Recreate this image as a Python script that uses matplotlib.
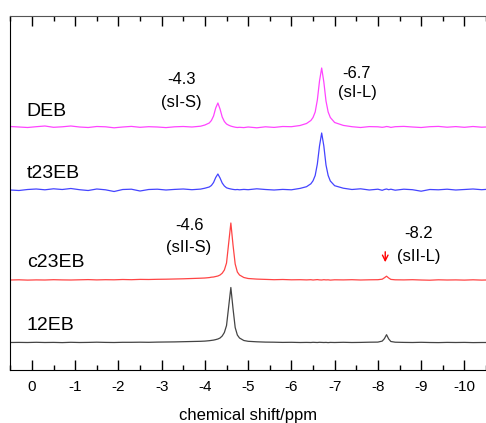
import matplotlib
matplotlib.use("Agg")
import matplotlib.pyplot as plt

plt.rcParams['font.family'] = ['Liberation Sans', 'DejaVu Sans']

# chemical shift grid (ppm), shared by all traces
ppm = [0.5, 0.3, 0.1, -0.1, -0.3, -0.5, -0.7, -0.9, -1.1, -1.3, -1.5, -1.7,
       -1.9, -2.1, -2.3, -2.5, -2.7, -2.9, -3.1, -3.3, -3.5, -3.7, -3.9,
       -4.0, -4.1, -4.15, -4.2, -4.25, -4.3, -4.35, -4.4, -4.45, -4.5, -4.55,
       -4.6, -4.65, -4.7, -4.75, -4.8, -4.9,
       -5.0, -5.2, -5.4, -5.6, -5.8, -6.0, -6.2,
       -6.35, -6.45, -6.5, -6.55, -6.6, -6.65, -6.7, -6.75, -6.8, -6.85, -6.9, -7.0,
       -7.2, -7.4, -7.6, -7.8,
       -8.0, -8.1, -8.15, -8.2, -8.25, -8.3, -8.4,
       -8.6, -8.8, -9.0, -9.2, -9.4, -9.6, -9.8, -10.0, -10.2, -10.4, -10.5]

deb = [0.5, 0, -0.5, 0.3, 1.0, -0.3, 0.2, 1.0, 0, -0.5, 0.5, 0.2,
       -0.8, 0, 0.6, -0.3, 0.3, 0, -0.6, 0.2, 0.5, 0, 0.8,
       2.0, 4.0, 6.5, 11, 19, 24, 18, 10, 5.5, 3.0, 1.8,
       0.9, 0.3, -0.2, -0.5, -0.3, -0.6,
       0, -0.8, 0.2, -0.4, 0.5, 0.3, 1.5,
       3.5, 6.5, 9.5, 15, 27, 46, 59, 45, 26, 15, 9.5, 4.5,
       1.6, 0.3, -0.5, 0.4,
       0.2, -0.3, 0, 0.5, 0.2, -0.4, 0.3,
       0.6, 0, -0.5, 0.3, 0.6, -0.2, 0.4, -0.3, 0.5, -0.2, 0]

t23eb = [0, -0.5, 0.5, 1.0, 0.2, 1.2, 0.5, 1.5, 0.3, -0.5, 1.0, 0.2,
         -1.5, 0.5, 0.8, -1.0, 0.5, 0.8, 0, 0.6, 1.0, 0.3, 0.9,
         1.8, 3.0, 4.5, 7.5, 12.5, 16, 12, 7, 4.0, 2.2, 1.5,
         1.0, 0.6, 0.3, 0.5, 0.2, 0.6,
         0.3, 1.2, 0.5, 0, 0.6, 0.2, 1.6,
         3.3, 6.2, 9.2, 14.5, 26, 44, 57, 44, 25, 14.5, 9, 4.3,
         1.8, 0.5, 1.2, 0,
         0.8, -0.3, 0.5, 1.0, 0.3, 0.8, -0.2,
         0.8, 0.3, -1.2, 0.5, 0.2, 0.8, 0, 0.5, 1.0, 0.3, 0.6]

c23eb = [0, 0.2, -0.1, 0.1, 0, 0.3, 0.1, 0, 0.2, 0.4, 0.1, 0.3,
         0.2, 0.5, 0.3, 0.6, 0.5, 0.7, 0.8, 1.0, 1.2, 1.5, 1.8,
         2.0, 2.4, 2.8, 3.0, 3.5, 4.0, 5.0, 6.8, 10, 17, 37,
         57, 35, 16, 8, 5, 2.5,
         1.5, 0.9, 0.6, 0.3, 0.5, 0.2, 0.3,
         0.1, 0.3, 0, 0.2, 0.4, 0.1, 0, 0.3, 0.1, 0.2, -0.1, 0.2,
         0.1, 0.3, 0, 0.2,
         0.3, 0.8, 2.2, 3.8, 2.0, 0.6, 0.2,
         0.1, 0.3, 0, -0.2, 0.2, 0, 0.1, -0.1, 0.2, -0.1, 0]

eb12 = [0, 0.1, 0, 0.2, 0, 0.1, -0.1, 0.2, 0, 0.1, 0.3, 0.1,
        0, 0.2, 0.2, 0.3, 0.2, 0.4, 0.5, 0.6, 0.8, 1.0, 1.2,
        1.4, 1.8, 2.1, 2.4, 2.9, 3.5, 4.5, 6.5, 10, 17, 36,
        55, 34, 15, 7.5, 4.5, 2.0,
        1.2, 0.7, 0.4, 0.3, 0.1, 0.2, 0,
        0.1, 0, 0.2, 0.1, 0, 0.2, 0.1, 0, 0.1, -0.1, 0.1, 0,
        0.2, 0, 0.1, 0.3,
        0.4, 1.4, 3.8, 7.8, 3.5, 1.0, 0.3,
        0.1, 0, 0.2, 0, -0.1, 0.1, 0, 0.1, -0.1, 0, 0]

names = ['DEB', 't23EB', 'c23EB', '12EB']
traces = [deb, t23eb, c23eb, eb12]
offsets = [243, 180, 90, 27.5]
colors = ['#ff44ff', '#4444ff', '#ff4444', '#444444']

fig = plt.figure(figsize=(4.86, 4.23), dpi=100)
ax = fig.add_axes([10/486, 53/423, 476/486, 354/423])

for name, y, off, c in zip(names, traces, offsets, colors):
    ax.plot(ppm, [v + off for v in y], color=c, lw=0.9)

# trace labels
ax.text(0.12, 250, 'DEB', fontsize=14, va='bottom')
ax.text(0.12, 188, 't23EB', fontsize=14, va='bottom')
ax.text(0.12, 99, 'c23EB', fontsize=14, va='bottom')
ax.text(0.12, 36, '12EB', fontsize=14, va='bottom')

# peak annotations
ax.text(-3.45, 290, '-4.3', fontsize=12, ha='center', va='center')
ax.text(-3.45, 268, '(sI-S)', fontsize=12, ha='center', va='center')
ax.text(-7.5, 297, '-6.7', fontsize=12, ha='center', va='center')
ax.text(-7.53, 277, '(sI-L)', fontsize=12, ha='center', va='center')
ax.text(-3.65, 145, '-4.6', fontsize=12, ha='center', va='center')
ax.text(-3.63, 123, '(sII-S)', fontsize=12, ha='center', va='center')
ax.text(-8.95, 137, '-8.2', fontsize=12, ha='center', va='center')
ax.text(-8.95, 114, '(sII-L)', fontsize=12, ha='center', va='center')
ax.annotate('', xy=(-8.17, 105), xytext=(-8.17, 121),
            arrowprops=dict(arrowstyle='->', color='red', lw=1.0))

ax.set_xlim(0.507, -10.46)
ax.set_ylim(0, 354)
ax.set_yticks([])
ticks = [0, -1, -2, -3, -4, -5, -6, -7, -8, -9, -10]
ax.set_xticks(ticks, [str(t) for t in ticks], fontsize=11)
ax.set_xticks([0.5 - i for i in range(11)] + [-10.5], minor=True)
ax.tick_params(axis='x', which='major', direction='in', length=7, width=1,
               top=True, pad=7)
ax.tick_params(axis='x', which='minor', direction='in', length=3.5, width=1,
               top=True)
ax.spines['right'].set_visible(False)
ax.spines['top'].set_color('#555555')
ax.set_xlabel('chemical shift/ppm', fontsize=12, labelpad=10.5)

plt.savefig('out.png', dpi=100)
